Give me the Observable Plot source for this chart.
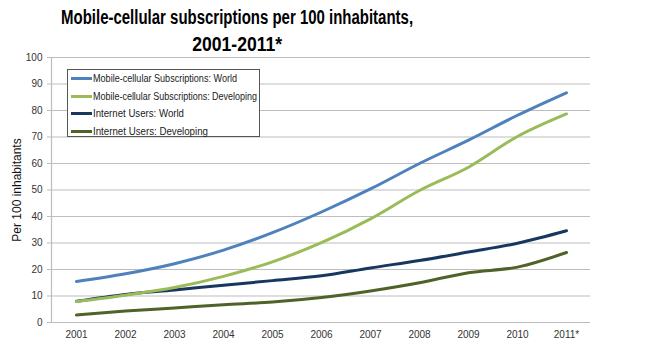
<!DOCTYPE html>
<html>
<head>
<meta charset="utf-8">
<script src="https://cdn.jsdelivr.net/npm/d3@7"></script>
<script src="https://cdn.jsdelivr.net/npm/@observablehq/plot@0.6"></script>
<style>
  html, body { margin: 0; padding: 0; background: #fff; }
  #wrap { position: relative; width: 655px; height: 350px; overflow: hidden; }
  .tl { position: absolute; left: 0; width: 474px; text-align: center; white-space: nowrap;
    font-family: "Liberation Sans", sans-serif; font-weight: bold; font-size: 20px; line-height: 24px; color: #000; }
  .tl span { display: inline-block; transform-origin: 50% 50%; }
  #legend { position: absolute; left: 67px; top: 69px; width: 193px; height: 68px;
    border: 1px solid #555; background: #fff; box-sizing: border-box;
    font-family: "Liberation Sans", sans-serif; font-size: 10.5px; color: #222; }
  .row { position: absolute; left: 3px; height: 12px; display: flex; align-items: center; white-space: nowrap; }
  .sw { width: 21px; height: 3px; margin-right: 1px; flex: none; }
  .lt { display: inline-block; transform-origin: 0 50%; }
</style>
</head>
<body>
<div id="wrap">
  <div id="chart"></div>
  <div class="tl" style="top:5px"><span id="t1">Mobile-cellular subscriptions per 100 inhabitants,</span></div>
  <div class="tl" style="top:32px"><span id="t2">2001-2011*</span></div>
  <div id="legend"></div>
</div>
<script>
const years = ["2001","2002","2003","2004","2005","2006","2007","2008","2009","2010","2011*"];
const mobileWorld      = [15.5, 18.4, 22.2, 27.3, 33.9, 41.7, 50.4, 60.0, 68.8, 78.2, 86.7];
const mobileDeveloping = [7.9, 10.3, 13.2, 17.4, 22.9, 30.1, 39.1, 49.8, 58.6, 70.2, 78.7];
const internetWorld    = [8.0, 10.6, 12.3, 14.1, 15.8, 17.6, 20.6, 23.4, 26.6, 29.9, 34.6];
const internetDeveloping = [2.8, 4.3, 5.5, 6.7, 7.7, 9.4, 11.9, 15.0, 18.8, 20.9, 26.4];
const seriesNames = [
  "Mobile-cellular Subscriptions: World",
  "Mobile-cellular Subscriptions: Developing",
  "Internet Users: World",
  "Internet Users: Developing"
];
const seriesColors = ["#4F81BD", "#9BBB59", "#17375E", "#4F6228"];
const yTicks = [0,10,20,30,40,50,60,70,80,90,100];

const allSeries = [mobileWorld, mobileDeveloping, internetWorld, internetDeveloping];
const data = [];
[3,2,1,0].forEach(si => {
  allSeries[si].forEach((v, i) => data.push({year: years[i], value: v, series: seriesNames[si]}));
});

const plot = Plot.plot({
  width: 655,
  height: 350,
  marginTop: 57,
  marginBottom: 28,
  marginLeft: 51,
  marginRight: 65,
  style: { fontFamily: "'Liberation Sans', sans-serif", fontSize: "10px", color: "#333", background: "#fff" },
  x: { type: "point", domain: years, padding: 0.5, label: null },
  y: { domain: [0, 100], ticks: yTicks, label: null },
  color: { domain: seriesNames, range: seriesColors },
  marks: [
    Plot.gridY(yTicks, { stroke: "#BDBDBD", strokeOpacity: 1, strokeWidth: 1.2 }),
    Plot.frame({ anchor: "left", stroke: "#BDBDBD", strokeWidth: 1.2 }),
    Plot.axisY({ ticks: yTicks, tickSize: 4, stroke: "#BDBDBD", tickPadding: 5, fill: "#333" }),
    Plot.axisX({ tickSize: 0, tickPadding: 8, fill: "#333" }),
    Plot.text(["Per 100 inhabitants"], { frameAnchor: "left", textAnchor: "middle", dx: -34, rotate: -90, fontSize: 12, fill: "#111" }),
    Plot.line(data, { x: "year", y: "value", z: "series", stroke: "series", strokeWidth: 3, curve: "monotone-x" })
  ]
});
document.getElementById("chart").appendChild(plot);

function fit(el, target) {
  const w = el.getBoundingClientRect().width;
  if (w > 0) el.style.transform = `scaleX(${target / w})`;
}

const leg = document.getElementById("legend");
const rowsTop = [2, 20, 37, 55];
const textWidths = [144, 164, 91, 115];
seriesNames.forEach((n, i) => {
  const r = document.createElement("div");
  r.className = "row";
  r.style.top = rowsTop[i] + "px";
  r.innerHTML = `<span class="sw" style="background:${seriesColors[i]}"></span><span class="lt">${n}</span>`;
  leg.appendChild(r);
  fit(r.querySelector(".lt"), textWidths[i]);
});
fit(document.getElementById("t1"), 352);
fit(document.getElementById("t2"), 90);
</script>
</body>
</html>
